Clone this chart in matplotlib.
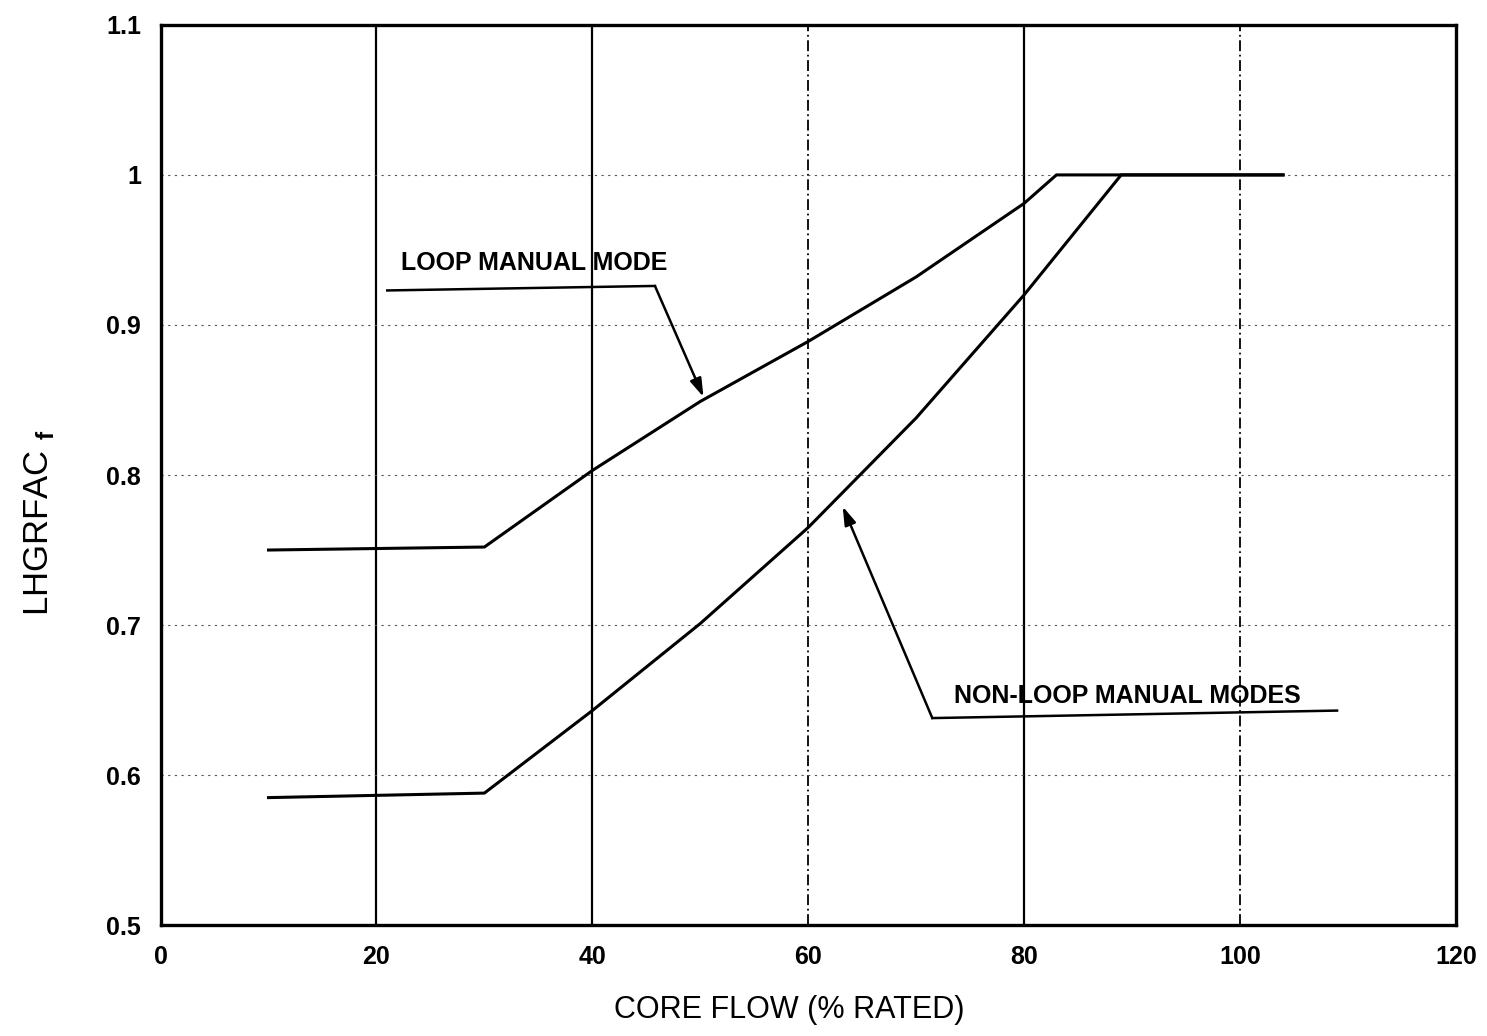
import matplotlib
matplotlib.use('Agg')
import matplotlib.pyplot as plt

plt.rcParams['font.family'] = ['Liberation Sans', 'DejaVu Sans']
plt.rcParams['mathtext.fontset'] = 'custom'
plt.rcParams['mathtext.rm'] = 'Liberation Sans'
plt.rcParams['mathtext.bf'] = 'Liberation Sans:bold'

# curve values
loop_flow = [10, 30, 40, 50, 60, 70, 80, 83, 104]
loop_fac = [0.75, 0.752, 0.803, 0.849, 0.889, 0.932, 0.981, 1.0, 1.0]

nonloop_flow = [10, 30, 40, 50, 60, 70, 80, 89, 104]
nonloop_fac = [0.585, 0.588, 0.643, 0.701, 0.765, 0.838, 0.92, 1.0, 1.0]

x_ticks = [0, 20, 40, 60, 80, 100, 120]
y_ticks = [0.5, 0.6, 0.7, 0.8, 0.9, 1.0, 1.1]
y_tick_labels = ['0.5', '0.6', '0.7', '0.8', '0.9', '1', '1.1']

solid_vgrid = [20, 40, 80]
dashed_vgrid = [60, 100]
hgrid = [0.6, 0.7, 0.8, 0.9, 1.0]

# annotation leaders: text anchor, elbow, arrow tip
loop_label = ('LOOP MANUAL MODE', 22.3, 0.941)
loop_leader_x = [21.0, 45.8]
loop_leader_y = [0.923, 0.926]
loop_tip = (50.3, 0.852)

nonloop_label = ('NON-LOOP MANUAL MODES', 73.5, 0.653)
nonloop_leader_x = [109.0, 71.5]
nonloop_leader_y = [0.643, 0.638]
nonloop_tip = (63.2, 0.779)

fig = plt.figure(figsize=(14.87, 10.36), dpi=100)
ax = fig.add_axes([0.108, 0.107, 0.871, 0.869])

for x in solid_vgrid:
    ax.axvline(x, color='black', lw=1.6, zorder=1)
for x in dashed_vgrid:
    ax.axvline(x, color='black', lw=1.3, ls=(0, (6, 2, 1, 2)), zorder=1)
for y in hgrid:
    ax.axhline(y, color='#555555', lw=0.8, ls=(0, (2, 4)), zorder=1)

ax.plot(loop_flow, loop_fac, color='black', lw=2.2, zorder=3)
ax.plot(nonloop_flow, nonloop_fac, color='black', lw=2.2, zorder=3)

ax.text(loop_label[1], loop_label[2], loop_label[0], fontsize=18, fontweight='bold',
        ha='left', va='center')
ax.plot(loop_leader_x, loop_leader_y, color='black', lw=1.8)
ax.annotate('', xy=loop_tip, xytext=(loop_leader_x[-1], loop_leader_y[-1]),
            arrowprops=dict(arrowstyle='-|>,head_length=1.1,head_width=0.35',
                            color='black', lw=1.8, shrinkA=0, shrinkB=0))

ax.text(nonloop_label[1], nonloop_label[2], nonloop_label[0], fontsize=18, fontweight='bold',
        ha='left', va='center')
ax.plot(nonloop_leader_x, nonloop_leader_y, color='black', lw=1.8)
ax.annotate('', xy=nonloop_tip, xytext=(nonloop_leader_x[-1], nonloop_leader_y[-1]),
            arrowprops=dict(arrowstyle='-|>,head_length=1.1,head_width=0.35',
                            color='black', lw=1.8, shrinkA=0, shrinkB=0))

ax.set_xlim(0, 120)
ax.set_ylim(0.5, 1.1)
ax.set_xticks(x_ticks)
ax.set_xticklabels([str(t) for t in x_ticks], fontsize=18, fontweight='bold')
ax.set_yticks(y_ticks)
ax.set_yticklabels(y_tick_labels, fontsize=18, fontweight='bold')
ax.tick_params(length=0, pad=14)
for s in ax.spines.values():
    s.set_linewidth(2.4)

fig.text(0.531, 0.025, 'CORE FLOW (% RATED)', fontsize=22, ha='center', va='center')
fig.text(0.026, 0.495, r'LHGRFAC $_{\mathbf{f}}$', fontsize=25, rotation=90,
         ha='center', va='center')

fig.savefig('out.png', dpi=100)
